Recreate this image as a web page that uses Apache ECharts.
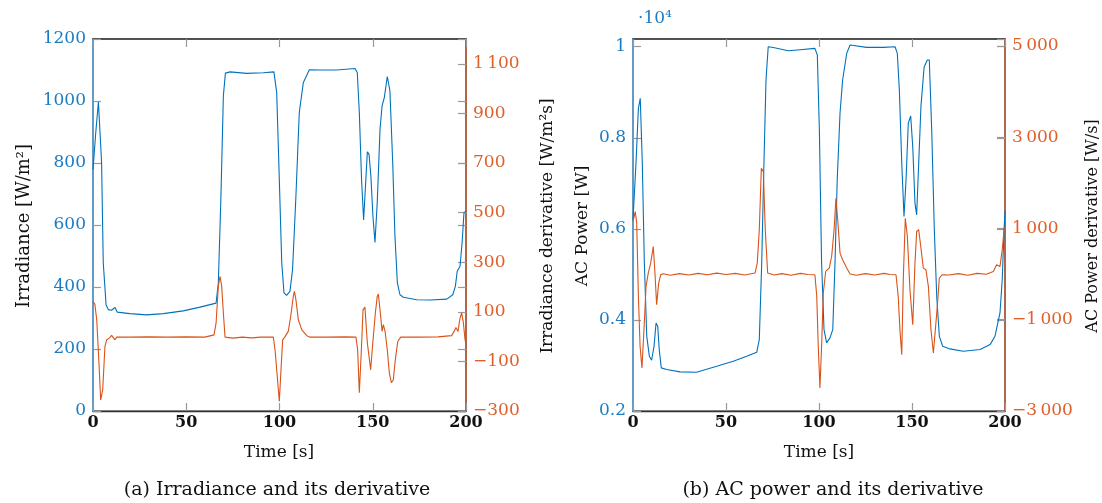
<!DOCTYPE html>
<html><head><meta charset="utf-8">
<script src="https://cdn.jsdelivr.net/npm/echarts@6/dist/echarts.min.js"></script>
<style>html,body{margin:0;padding:0;background:#fff}#c{width:1102px;height:503px}</style>
</head><body><div id="c"></div>
<script>
// ---- Data ----
const irrT = [0,1.5,2.9,4.6,5.5,7,8.2,9.9,11.8,13,19.8,28.8,37.7,48.4,57.4,66,67.2,68.6,69.9,71,73.5,82.4,91.3,97,98.5,99.9,101.2,102.4,103.8,105.6,107,108.8,110.6,112.8,116,121.7,130.6,140.5,141.7,142.8,144,145.1,146.2,147.1,148,149,150.1,151.2,152.4,153.9,155,156.2,157.8,159.2,160.7,161.9,163.2,164.6,166.4,173.6,180.7,189.7,192.9,194.3,195.3,196.8,197.9,198.9,200];
const irrV = [778,900,997,802,478,343,327,325,334,319,314,310,314,323,335,348,413,693,1016,1090,1094,1089,1091,1094,1027,747,478,381,373,386,456,693,963,1060,1101,1100,1100,1105,1092,963,747,616,736,836,828,758,628,544,672,909,984,1011,1079,1033,801,564,413,375,367,359,358,361,375,402,451,467,542,639,645];

const dIrrT = [0,1,2,3.2,4.1,5.2,6.4,7.3,8.7,10,11.8,12.7,20,30,40,50,60,64.9,66,67.2,68.1,69,69.9,70.8,75,80,85,90,96.7,97.6,98.8,99.9,101,101.7,103,104.7,106,107.4,108,108.8,110.1,111.9,114.6,116,125,135,141,141.9,142.8,143.9,144.8,145.8,147.1,148,148.9,150,151.4,152.4,153,153.9,155,155.7,156.6,157.8,158.9,160,161,162.1,163.4,165,175,185,192.3,193.6,194.6,195.7,196.8,197.7,198.6,199.5,200];
const dIrrV = [142,130,68,-107,-256,-215,-40,-13,-6,5,-13,-2,-2,-1,-2,-1,-2,7,55,203,243,203,95,-2,-6,-2,-5,-2,-2,-53,-161,-262,-107,-13,0,21,81,162,182,149,68,28,4,-2,-2,-1,-2,-53,-226,-53,108,119,-26,-80,-134,-26,95,162,172,108,21,48,21,-53,-148,-186,-175,-94,-20,-2,-2,-1,4,21,37,21,75,95,55,-13,-30];

const acT = [0,1.6,2.9,3.9,5,6.1,7.4,8.8,10,11.3,12.4,13.3,14.1,15.2,18.1,25.3,34.2,45,53.9,61.1,66.5,67.9,69.2,70.4,71.5,72.7,75.4,83.5,89.8,97.8,99.1,100.2,101.4,102.7,104.1,105.9,107.4,108.6,109.8,111.3,112.7,114.9,116.7,125.6,134.6,140.9,142.1,143.2,144.5,145.7,146.8,148,149.3,150.4,151.6,152.5,153.6,154.8,156.5,158.2,159.3,160.6,162,163.3,164.7,166.5,170.4,177.6,186.6,192,194.6,197.3,198.5,199.5,200];
const acV = [6200,7443,8649,8868,7443,5250,3640,3202,3114,3421,3934,3860,3349,2947,2910,2860,2851,2982,3092,3202,3289,3568,5250,7443,9270,10000,9985,9912,9935,9965,9818,8173,5250,3787,3496,3605,3787,5250,7077,8539,9270,9855,10037,9987,9987,10000,9855,9050,7443,6272,7077,8320,8480,7807,6566,6309,7443,8684,9548,9708,9708,8173,5980,4518,3640,3421,3364,3311,3349,3458,3640,4154,4884,5980,6400];

const dAcT = [0,1.2,2,2.9,3.8,4.8,5.9,7,8.2,9.5,10.9,11.8,12.7,13.8,14.9,16.3,20,25,30,35,40,45,50,55,60,65.6,66.8,67.9,69,70.1,71.1,72.4,76,80,85,90,94,97.8,98.8,99.6,100.5,101.4,102.3,103.6,105.5,106.8,108.1,109.1,110.2,111.3,112.7,114.9,116.7,120,125,130,135,138,141.4,142.6,143.5,144.5,145.3,146.4,147.5,148.9,150.4,151.6,152.5,153.6,154.7,156.1,157.5,158.8,160.2,161.5,162.4,163.6,164.7,166.2,170,175,180,185,190,193.7,195.5,197.3,198.5,199.5,200];
const dAcV = [1150,1370,1115,-490,-1583,-2055,-1218,-271,22,240,604,22,-671,-197,-15,7,-25,10,-20,15,-15,20,-10,15,-20,22,240,970,2318,2245,970,22,-20,10,-25,15,-10,-15,-490,-1583,-2493,-1583,-416,57,131,385,970,1662,1115,459,313,131,0,-25,10,-20,15,-10,-15,-490,-1218,-1765,-124,1224,822,-343,-1109,240,932,970,604,131,94,-271,-1218,-1728,-1765,-708,-88,-15,-20,10,-25,15,-5,57,203,167,531,970,1000];

const timeTicks = [0,50,100,150,200];

// ---- Helpers ----
const zip = (t, v) => t.map((x, i) => [x, v[i]]);
const BLUE = '#0072BD', ORANGE = '#D95319';
const BLUE_TXT = '#1b7cc4', ORANGE_TXT = '#e0602a';
const FONT = 'DejaVu Serif';
function pgf(v) {
  const neg = v < 0; let a = Math.abs(Math.round(v));
  let s = String(a);
  if (a >= 1000) s = s.slice(0, s.length - 3) + '\u2009' + s.slice(-3);
  return (neg ? '\u2212' : '') + s;
}

const chart = echarts.init(document.getElementById('c'), null, {renderer: 'canvas'});

const grids = [
  {left: 93, right: 636, top: 39, bottom: 92, show: true, borderColor: '#333', borderWidth: 1.2, backgroundColor: 'transparent'},
  {left: 633, right: 97, top: 39, bottom: 92, show: true, borderColor: '#333', borderWidth: 1.2, backgroundColor: 'transparent'}
];

function xBottom(gi) {
  return {type: 'value', gridIndex: gi, min: 0, max: 200, interval: 50, position: 'bottom',
    axisLine: {show: true, onZero: false, lineStyle: {color: '#333', width: 1.4}},
    axisTick: {show: true, inside: true, length: 8, lineStyle: {color: '#999', width: 1.2}},
    axisLabel: {color: '#111', fontFamily: FONT, fontSize: 16, fontWeight: 'bold', margin: 4,
      customValues: timeTicks},
    splitLine: {show: false}};
}
function xTop(gi) {
  return {type: 'value', gridIndex: gi, min: 0, max: 200, interval: 50, position: 'top',
    axisLine: {show: true, onZero: false, lineStyle: {color: '#3a3a3a', width: 1.6}},
    axisTick: {show: true, inside: true, length: 8, lineStyle: {color: '#999', width: 1.2}},
    axisLabel: {show: false}, splitLine: {show: false}};
}
function yAx(gi, pos, min, max, interval, lineColor, txtColor, fmt, showLine, showLabel, showMax) {
  return {type: 'value', gridIndex: gi, position: pos, min: min, max: max, interval: interval,
    axisLine: {show: showLine, onZero: false, lineStyle: {color: lineColor, width: 1.6}},
    axisTick: {show: true, inside: true, length: 8, lineStyle: {color: '#999', width: 1.2}},
    axisLabel: {show: showLabel, color: txtColor, fontFamily: FONT, fontSize: 17, margin: 7,
      showMaxLabel: showMax, formatter: fmt},
    splitLine: {show: false}};
}

const option = {
  animation: false,
  backgroundColor: '#fff',
  grid: grids,
  xAxis: [xBottom(0), xTop(0), xBottom(1), xTop(1)],
  yAxis: [
    yAx(0, 'left', 0, 1200, 200, '#5aa3d8', BLUE_TXT, v => String(v), true, true, true),
    yAx(0, 'right', -300, 1200, 200, '#b8613c', ORANGE_TXT, v => pgf(v), true, true, false),
    yAx(0, 'right', 0, 1200, 200, '#b8613c', BLUE_TXT, v => '', false, false, false),
    yAx(1, 'left', 2000, 10170, 2000, '#5aa3d8', BLUE_TXT, v => String(+(v / 10000).toFixed(1)), true, true, false),
    yAx(1, 'right', -3000, 5150, 2000, '#b8613c', ORANGE_TXT, v => pgf(v), true, true, false),
    yAx(1, 'right', 2000, 10170, 2000, '#b8613c', BLUE_TXT, v => '', false, false, false)
  ],
  series: [
    {type: 'line', xAxisIndex: 0, yAxisIndex: 0, data: zip(irrT, irrV), showSymbol: false, symbol: 'none',
      lineStyle: {color: BLUE, width: 1.1}, clip: true},
    {type: 'line', xAxisIndex: 0, yAxisIndex: 1, data: zip(dIrrT, dIrrV), showSymbol: false, symbol: 'none',
      lineStyle: {color: ORANGE, width: 1.1}, clip: true},
    {type: 'line', xAxisIndex: 2, yAxisIndex: 3, data: zip(acT, acV), showSymbol: false, symbol: 'none',
      lineStyle: {color: BLUE, width: 1.1}, clip: true},
    {type: 'line', xAxisIndex: 2, yAxisIndex: 4, data: zip(dAcT, dAcV), showSymbol: false, symbol: 'none',
      lineStyle: {color: ORANGE, width: 1.1}, clip: true}
  ],
  graphic: [
    {type: 'text', x: 24, y: 226, rotation: Math.PI / 2,
      style: {text: 'Irradiance [W/m\u00b2]', font: '18px "DejaVu Serif"', fill: '#111', textAlign: 'center', textVerticalAlign: 'middle'}},
    {type: 'text', x: 548, y: 226, rotation: Math.PI / 2,
      style: {text: 'Irradiance derivative [W/m\u00b2s]', font: '17px "DejaVu Serif"', fill: '#111', textAlign: 'center', textVerticalAlign: 'middle'}},
    {type: 'text', x: 583, y: 226, rotation: Math.PI / 2,
      style: {text: 'AC Power [W]', font: '17px "DejaVu Serif"', fill: '#111', textAlign: 'center', textVerticalAlign: 'middle'}},
    {type: 'text', x: 1093, y: 226, rotation: Math.PI / 2,
      style: {text: 'AC Power derivative [W/s]', font: '16px "DejaVu Serif"', fill: '#111', textAlign: 'center', textVerticalAlign: 'middle'}},
    {type: 'text', x: 279, y: 453,
      style: {text: 'Time [s]', font: '17px "DejaVu Serif"', fill: '#111', textAlign: 'center', textVerticalAlign: 'middle'}},
    {type: 'text', x: 819, y: 453,
      style: {text: 'Time [s]', font: '17px "DejaVu Serif"', fill: '#111', textAlign: 'center', textVerticalAlign: 'middle'}},
    {type: 'text', x: 277, y: 490,
      style: {text: '(a) Irradiance and its derivative', font: '19px "DejaVu Serif"', fill: '#111', textAlign: 'center', textVerticalAlign: 'middle'}},
    {type: 'text', x: 833, y: 490,
      style: {text: '(b) AC power and its derivative', font: '19px "DejaVu Serif"', fill: '#111', textAlign: 'center', textVerticalAlign: 'middle'}},
    {type: 'text', x: 638, y: 19,
      style: {text: '\u00b710\u2074', font: '17px "DejaVu Serif"', fill: BLUE_TXT, textAlign: 'left', textVerticalAlign: 'middle'}}
  ]
};
chart.setOption(option);
</script>
</body></html>
